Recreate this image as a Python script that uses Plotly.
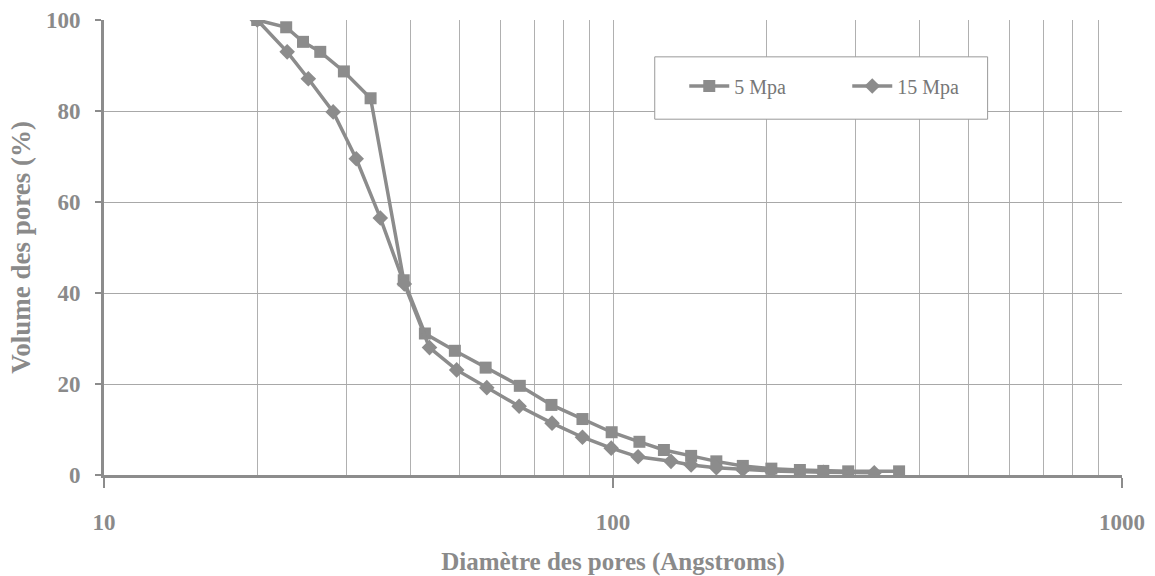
import plotly.graph_objects as go

# Pore size distribution: cumulative pore volume vs pore diameter
diam_5mpa = [20, 22.8, 24.6, 26.6, 29.6, 33.4, 38.8, 42.7, 48.9, 56.2, 65.6, 75.7,
             87.1, 99.4, 112.7, 125.9, 142.4, 159.6, 179.9, 204.7, 232.9, 258.9,
             289.8, 364.8]
vol_5mpa = [100, 98.4, 95.2, 93.0, 88.7, 82.8, 42.8, 31.1, 27.3, 23.6, 19.6, 15.4,
            12.3, 9.4, 7.3, 5.5, 4.2, 3.0, 2.0, 1.4, 1.1, 0.9, 0.8, 0.8]

diam_15mpa = [20, 22.9, 25.2, 28.2, 31.3, 34.9, 38.9, 43.6, 49.3, 56.5, 65.4, 75.9,
              87.1, 99.2, 112, 130, 142.4, 159.6, 179.9, 204.7, 258.9, 326]
vol_15mpa = [100, 93.0, 87.1, 79.8, 69.5, 56.5, 42.0, 28.0, 23.1, 19.2, 15.1, 11.4,
             8.3, 5.9, 4.0, 3.0, 2.2, 1.6, 1.2, 0.9, 0.6, 0.5]

series_names = ["5 Mpa", "15 Mpa"]
x_ticks = [10, 100, 1000]
y_ticks = [0, 20, 40, 60, 80, 100]
x_title = "Diamètre des pores (Angstroms)"
y_title = "Volume des pores (%)"

GRAY = "#8c8c8c"
TEXT = "#8a8a8a"
FONT = "Liberation Serif"

fig = go.Figure()
fig.add_trace(go.Scatter(
    x=diam_5mpa, y=vol_5mpa, name=series_names[0], mode="lines+markers",
    line=dict(color=GRAY, width=3.5),
    marker=dict(symbol="square", size=12, color=GRAY),
))
fig.add_trace(go.Scatter(
    x=diam_15mpa, y=vol_15mpa, name=series_names[1], mode="lines+markers",
    line=dict(color=GRAY, width=3.5),
    marker=dict(symbol="diamond", size=12, color=GRAY),
))

minor_vals = [m * 10 ** e for e in (1, 2) for m in range(2, 10)]

# Framed box behind the legend entries
fig.add_shape(type="rect", xref="paper", yref="paper",
              x0=0.541, x1=0.868, y0=0.782, y1=0.919,
              line=dict(color="#999999", width=1), fillcolor="white", layer="above")

fig.update_layout(
    width=1155, height=576,
    margin=dict(l=104, r=33, t=20, b=101),
    paper_bgcolor="white", plot_bgcolor="white",
    font=dict(family=FONT, color=TEXT, size=17),
    showlegend=True,
    legend=dict(
        orientation="h", x=0.570, y=0.855, xanchor="left", yanchor="middle",
        bgcolor="rgba(0,0,0,0)", borderwidth=0,
        font=dict(family=FONT, size=20, color="#777777"),
        itemwidth=40, entrywidth=108, entrywidthmode="pixels",
    ),
)

fig.update_xaxes(
    type="log", range=[1, 3], automargin=False,
    tickvals=x_ticks, ticktext=["<b>%d</b>" % v for v in x_ticks],
    showgrid=True, gridcolor="#b0b0b0", gridwidth=1,
    minor=dict(tickvals=minor_vals, showgrid=True, gridcolor="#b0b0b0",
               gridwidth=1, ticks=""),
    showline=True, linecolor=GRAY, linewidth=3,
    ticks="outside", ticklen=10, tickwidth=2, tickcolor=GRAY,
    ticklabelstandoff=14,
    tickfont=dict(family=FONT, size=23, color=TEXT),
    title=dict(text="<b>" + x_title + "</b>", standoff=20,
               font=dict(family=FONT, size=25, color=TEXT)),
    zeroline=False,
)
fig.update_yaxes(
    range=[0, 100], automargin=False,
    tickvals=y_ticks, ticktext=["<b>%d</b>" % v for v in y_ticks],
    showgrid=True, gridcolor="#a8a8a8", gridwidth=1,
    showline=True, linecolor=GRAY, linewidth=3,
    ticks="outside", ticklen=6, tickwidth=2, tickcolor=GRAY,
    ticklabelstandoff=10,
    tickfont=dict(family=FONT, size=23, color=TEXT),
    title=dict(text="<b>" + y_title + "</b>", standoff=8,
               font=dict(family=FONT, size=27, color=TEXT)),
    zeroline=False,
)

fig.write_html("out.html")
